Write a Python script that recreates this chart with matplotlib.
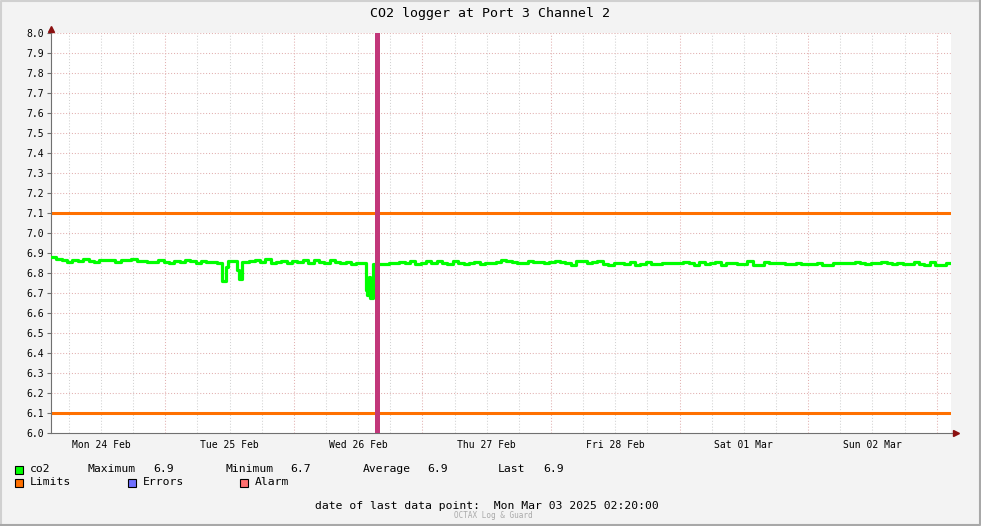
"""
CO2 logger chart, rrdtool look-alike, one week window.
"""

import numpy as np
import pandas as pd
import matplotlib
matplotlib.use('Agg')
import matplotlib.pyplot as plt
import matplotlib.dates as mdates
from matplotlib.patches import Rectangle

# ─────────────────────────────────────────────────────────────────────────────
# Data
# ─────────────────────────────────────────────────────────────────────────────
t_start = pd.Timestamp('2025-02-24 02:40')
t_end   = pd.Timestamp('2025-03-03 02:40')

# hourly co2 readings starting at t_start
co2_hourly = [
	6.878, 6.872, 6.865, 6.855, 6.865, 6.860, 6.872, 6.862, 6.857, 6.867,
	6.863, 6.863, 6.855, 6.865, 6.865, 6.872, 6.860, 6.860, 6.857, 6.857,
	6.863, 6.857, 6.848, 6.862, 6.855, 6.865, 6.860, 6.852, 6.860, 6.857,
	6.857, 6.852, 6.760, 6.860, 6.860, 6.770, 6.857, 6.860, 6.865, 6.857,
	6.868, 6.852, 6.857, 6.860, 6.852, 6.862, 6.857, 6.865, 6.848, 6.865,
	6.857, 6.848, 6.865, 6.857, 6.848, 6.857, 6.843, 6.848, 6.848, 6.715,
	6.673, 6.845, 6.845, 6.852, 6.848, 6.853, 6.852, 6.860, 6.845, 6.852,
	6.860, 6.852, 6.860, 6.852, 6.845, 6.860, 6.848, 6.845, 6.852, 6.857,
	6.845, 6.852, 6.852, 6.857, 6.865, 6.860, 6.855, 6.848, 6.848, 6.860,
	6.857, 6.855, 6.852, 6.855, 6.862, 6.857, 6.852, 6.840, 6.860, 6.860,
	6.848, 6.857, 6.860, 6.845, 6.840, 6.848, 6.848, 6.845, 6.857, 6.840,
	6.845, 6.855, 6.845, 6.845, 6.848, 6.848, 6.848, 6.848, 6.855, 6.848,
	6.842, 6.855, 6.845, 6.852, 6.855, 6.840, 6.848, 6.852, 6.845, 6.845,
	6.860, 6.842, 6.842, 6.857, 6.848, 6.852, 6.852, 6.845, 6.845, 6.852,
	6.845, 6.845, 6.845, 6.852, 6.842, 6.842, 6.848, 6.852, 6.852, 6.852,
	6.855, 6.848, 6.845, 6.848, 6.848, 6.855, 6.852, 6.845, 6.852, 6.845,
	6.845, 6.855, 6.845, 6.842, 6.855, 6.842, 6.838, 6.852,
]

# sub-hour detail around the dips (hours after t_start)
detail_hours  = [32.7, 34.8, 35.7, 58.8, 59.05, 59.4, 59.55, 60.15]
detail_values = [6.830, 6.815, 6.857, 6.715, 6.690, 6.780, 6.673, 6.845]

limit_low  = 6.1
limit_high = 7.1

alarm_start = pd.Timestamp('2025-02-26 15:10')
alarm_end   = pd.Timestamp('2025-02-26 16:07')

last_point = 'Mon Mar 03 2025 02:20:00'
stats = {'Maximum': '6.9', 'Minimum': '6.7', 'Average': '6.9', 'Last': '6.9'}

# ─────────────────────────────────────────────────────────────────────────────
# Build series
# ─────────────────────────────────────────────────────────────────────────────
hours = np.concatenate([np.arange(len(co2_hourly), dtype=float), detail_hours, [len(co2_hourly) - 0.33]])
vals  = np.concatenate([co2_hourly, detail_values, [co2_hourly[-1]]])
order = np.argsort(hours, kind='stable')
times = t_start + pd.to_timedelta(hours[order], unit='h')
vals  = vals[order]

# ─────────────────────────────────────────────────────────────────────────────
# Plot
# ─────────────────────────────────────────────────────────────────────────────
W, H = 981, 526
plt.rcParams['font.family'] = 'DejaVu Sans Mono'
fig = plt.figure(figsize=(W / 100, H / 100), dpi=100)
fig.patch.set_facecolor('#f3f3f3')

def px(x, y):
	return x / W, 1 - y / H

ax = fig.add_axes([51 / W, 1 - 433 / H, 900 / W, 400 / H])
ax.set_facecolor('white')
ax.set_xlim(t_start, t_end)
ax.set_ylim(6.0, 8.0)

grid_red  = '#e2b0b0'
grid_grey = '#d2d2d2'
dot = (0, (1, 1.8))

# grid: 6h minor (grey), midnights (red), every 0.1 horizontally (red)
for h6 in pd.date_range(t_start.ceil('6h'), t_end, freq='6h'):
	col = grid_red if h6.hour == 0 else grid_grey
	ax.axvline(h6, color=col, lw=0.75, ls=dot, zorder=0)
for yv in np.arange(6.1, 8.01, 0.1):
	ax.axhline(yv, color=grid_red, lw=0.75, ls=dot, zorder=0)

# limits
ax.axhline(limit_high, color='#ff7000', lw=2.2, zorder=2)
ax.axhline(limit_low, color='#ff7000', lw=2.2, zorder=2)

# co2 line
ax.plot(times, vals, drawstyle='steps-post', color='#00ff00', lw=2.3, zorder=3)

# alarm bar
ax.axvspan(alarm_start, alarm_end, color='#c2377a', lw=0, zorder=4)

# ticks
ax.set_yticks(np.arange(6.0, 8.01, 0.1))
ax.set_yticklabels([f'{v:.1f}' for v in np.arange(6.0, 8.01, 0.1)])
ax.xaxis.set_major_locator(mdates.HourLocator(byhour=[12]))
ax.xaxis.set_major_formatter(mdates.DateFormatter('%a %d %b'))
ax.tick_params(axis='y', labelsize=7, length=3, width=0.8, pad=2, colors='#707070', labelcolor='black')
ax.tick_params(axis='x', labelsize=7, length=0, pad=5, labelcolor='black')

for s in ['top', 'right']:
	ax.spines[s].set_visible(False)
for s in ['left', 'bottom']:
	ax.spines[s].set_color('#707070')
	ax.spines[s].set_linewidth(0.8)

# axis extensions + arrowheads
arrow_col = '#8b1010'
ax.plot([0, 0], [1.0, 1.01], transform=ax.transAxes, color='#707070', lw=0.8, clip_on=False)
ax.plot([0], [1.01], marker='^', ms=5, color=arrow_col, transform=ax.transAxes, clip_on=False)
ax.plot([1.0, 1.006], [0, 0], transform=ax.transAxes, color='#707070', lw=0.8, clip_on=False)
ax.plot([1.006], [0], marker='>', ms=5, color=arrow_col, transform=ax.transAxes, clip_on=False)

# title
fig.text(*px(490, 13), 'CO2 logger at Port 3 Channel 2', ha='center', va='center', fontsize=9.5)

# legend
fs = 8.2
def swatch(x, y, col):
	fig.patches.append(Rectangle(px(x, y + 4.5), 8 / W, 8 / H, transform=fig.transFigure,
								 facecolor=col, edgecolor='black', lw=0.8))

swatch(15, 469, '#00ff00')
fig.text(*px(30, 469), 'co2', va='center', fontsize=fs)
for (name, val), xn, xv in zip(stats.items(), [88, 225, 363, 498], [153, 290, 427, 543]):
	fig.text(*px(xn, 469), name, va='center', fontsize=fs)
	fig.text(*px(xv, 469), val, va='center', fontsize=fs)

for xs, col, lab in [(15, '#ff7000', 'Limits'), (128, '#7070ff', 'Errors'), (240, '#ff7070', 'Alarm')]:
	swatch(xs, 482, col)
	fig.text(*px(xs + 15, 482), lab, va='center', fontsize=fs)

fig.text(*px(315, 506), f'date of last data point:  {last_point}', va='center', fontsize=fs)
fig.text(*px(493, 516), 'OCTAX Log & Guard', ha='center', va='center', fontsize=5.5, color='#aaaaaa')

# frame around the image
fig.lines.append(plt.Line2D([0.001, 0.001, 0.999], [0.001, 0.999, 0.999], transform=fig.transFigure, color='#d0d0d0', lw=1.5))
fig.lines.append(plt.Line2D([0.001, 0.999, 0.999], [0.001, 0.001, 0.999], transform=fig.transFigure, color='#a8a8a8', lw=1.5))

fig.savefig('out.png', dpi=100, facecolor=fig.get_facecolor())
